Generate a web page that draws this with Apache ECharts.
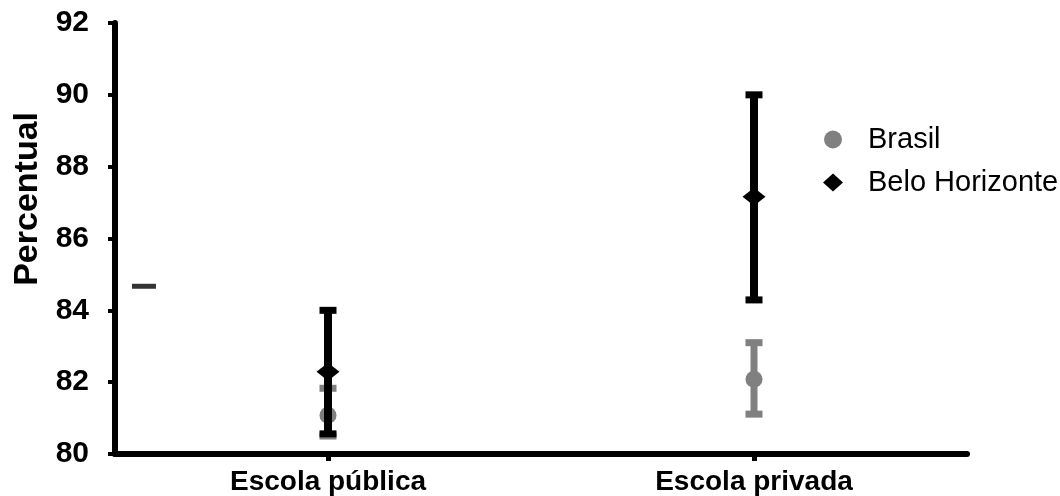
<!DOCTYPE html>
<html>
<head>
<meta charset="utf-8">
<script src="https://cdn.jsdelivr.net/npm/echarts@6/dist/echarts.min.js"></script>
<style>
html,body{margin:0;padding:0;background:#fff;}
#chart{width:1060px;height:496px;}
</style>
</head>
<body>
<div id="chart"></div>
<script>
var categories = ['Escola pública', 'Escola privada'];
var yTicks = [80, 82, 84, 86, 88, 90, 92];
var brasilValue = [81.08, 82.08];
var brasilLow = [80.5, 81.11];
var brasilHigh = [81.83, 83.1];
var bhValue = [82.29, 87.16];
var bhLow = [80.56, 84.29];
var bhHigh = [84.0, 90.0];
var strayMark = [[0.034, 84.67]];

var FONT = '"Liberation Sans", Arial, sans-serif';

function errData(low, high) {
  return categories.map(function (c, i) { return [i, low[i], high[i]]; });
}
function errRender(color, lw) {
  return function (params, api) {
    var x = api.value(0);
    var hi = api.coord([x, api.value(2)]);
    var lo = api.coord([x, api.value(1)]);
    var capW = 17, capH = 7;
    return {
      type: 'group',
      children: [
        { type: 'line', shape: { x1: hi[0], y1: hi[1], x2: lo[0], y2: lo[1] }, style: { stroke: color, lineWidth: lw } },
        { type: 'rect', shape: { x: hi[0] - capW / 2, y: hi[1] - capH / 2, width: capW, height: capH }, style: { fill: color } },
        { type: 'rect', shape: { x: lo[0] - capW / 2, y: lo[1] - capH / 2, width: capW, height: capH }, style: { fill: color } }
      ]
    };
  };
}

var chart = echarts.init(document.getElementById('chart'));
chart.setOption({
  animation: false,
  backgroundColor: '#fff',
  grid: { left: 115, right: 93, top: 23, bottom: 41 },
  legend: {
    orient: 'vertical',
    left: 823,
    top: 125,
    padding: 0,
    itemWidth: 20,
    itemHeight: 18,
    itemGap: 14,
    itemStyle: { borderWidth: 0 },
    textStyle: { fontFamily: FONT, fontSize: 29, color: '#000', padding: [0, 0, 0, 20] },
    data: [
      { name: 'Brasil', icon: 'circle', itemStyle: { color: '#808080' } },
      { name: 'Belo Horizonte', icon: 'diamond', itemStyle: { color: '#000' } }
    ]
  },
  graphic: [{
    type: 'text',
    left: 11,
    top: 112,
    rotation: Math.PI / 2,
    style: { text: 'Percentual', font: 'bold 34px ' + FONT, fill: '#000' }
  }],
  xAxis: [{
    type: 'category',
    data: categories,
    boundaryGap: true,
    axisLine: { lineStyle: { color: '#000', width: 6 } },
    axisTick: { show: true, alignWithLabel: true, length: 7, lineStyle: { color: '#000', width: 5 } },
    axisLabel: { margin: 14, fontFamily: FONT, fontWeight: 'bold', fontSize: 28, color: '#000' },
    splitLine: { show: false }
  }, {
    type: 'value', min: 0, max: 1, show: false
  }],
  yAxis: {
    type: 'value',
    min: yTicks[0],
    max: yTicks[yTicks.length - 1],
    interval: 2,
    axisLine: { show: true, lineStyle: { color: '#000', width: 6 } },
    axisTick: { show: true, length: 7, lineStyle: { color: '#000', width: 4 } },
    axisLabel: { margin: 26, fontFamily: FONT, fontWeight: 'bold', fontSize: 30, color: '#000' },
    splitLine: { show: false }
  },
  series: [
    {
      name: 'Brasil-err', type: 'custom', xAxisIndex: 0, z: 2,
      renderItem: errRender('#808080', 7), data: errData(brasilLow, brasilHigh), silent: true
    },
    {
      name: 'Brasil', type: 'scatter', xAxisIndex: 0, z: 3, symbol: 'circle', symbolSize: 17,
      itemStyle: { color: '#808080', opacity: 1 }, data: brasilValue
    },
    {
      name: 'BH-err', type: 'custom', xAxisIndex: 0, z: 4,
      renderItem: errRender('#000', 8), data: errData(bhLow, bhHigh), silent: true
    },
    {
      name: 'Belo Horizonte', type: 'scatter', xAxisIndex: 0, z: 5, symbol: 'diamond', symbolSize: [23, 18],
      itemStyle: { color: '#000', opacity: 1 }, data: bhValue
    },
    {
      name: 'stray', type: 'scatter', xAxisIndex: 1, z: 5, symbol: 'rect', symbolSize: [24, 5],
      itemStyle: { color: '#000' }, data: strayMark, silent: true
    }
  ]
});
</script>
</body>
</html>
